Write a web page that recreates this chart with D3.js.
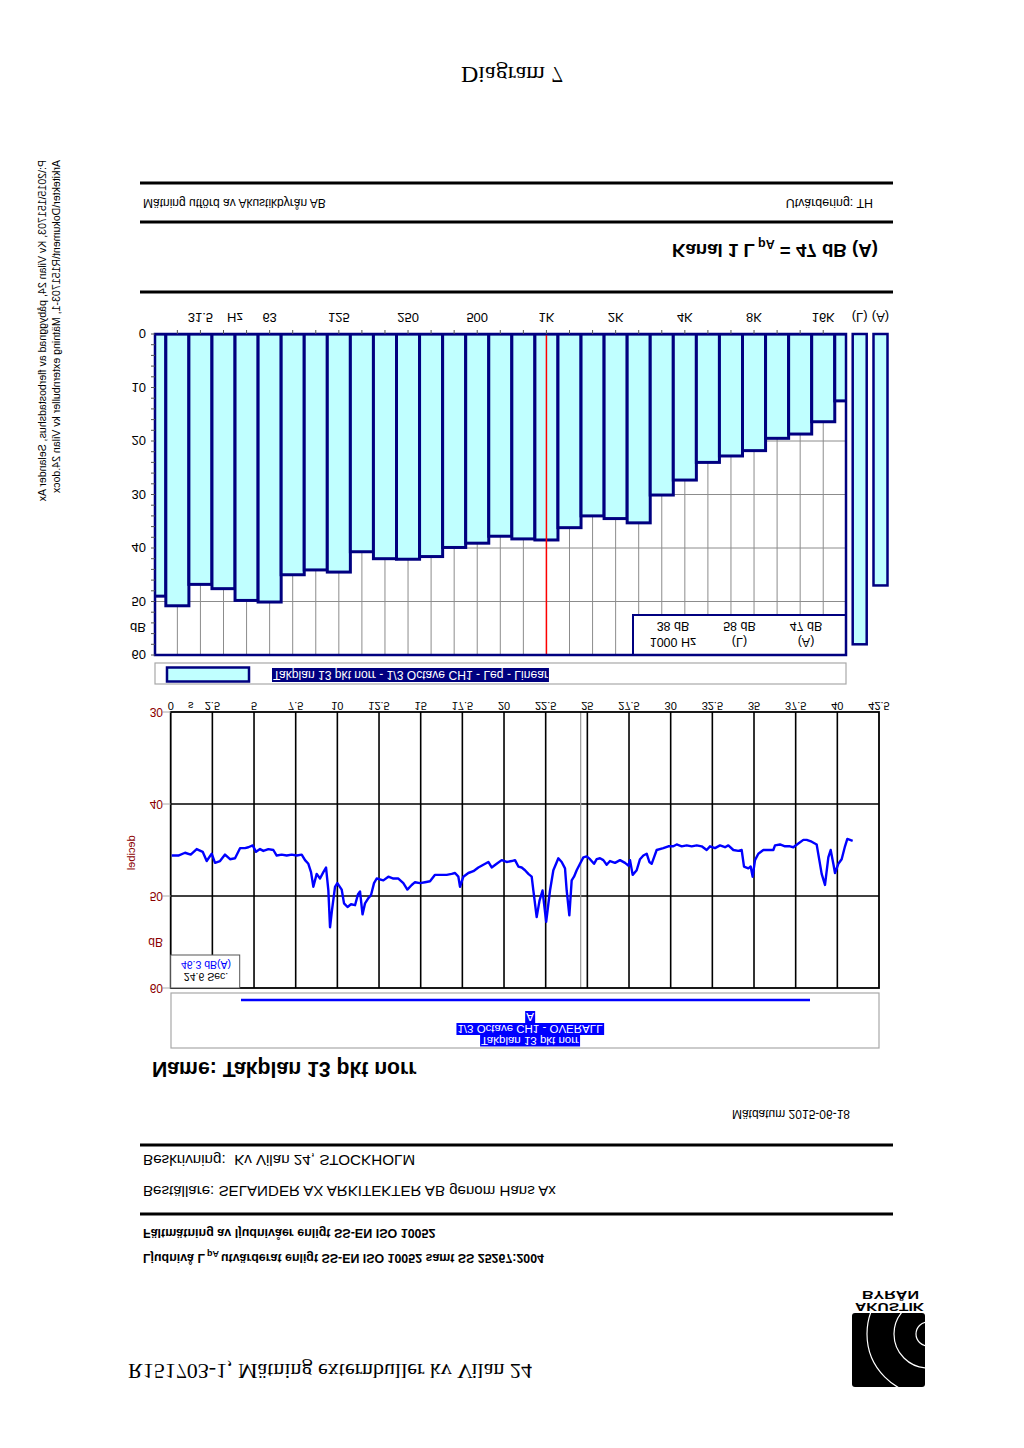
<!DOCTYPE html>
<html><head><meta charset="utf-8">
<script src="https://cdn.jsdelivr.net/npm/d3@7"></script>
<style>
body{margin:0;background:#fff}
svg{display:block}
text{font-family:"Liberation Sans",Arial,sans-serif}
.serif{font-family:"Liberation Serif","Times New Roman",serif}
</style>
</head><body>
<svg id="page" width="1024" height="1448"></svg>
<script>
// ---------------- data ----------------
const bandCentres = ["20","25","31.5","40","50","63","80","100","125","160","200","250","315","400","500","630","800","1K","1.25K","1.6K","2K","2.5K","3.15K","4K","5K","6.3K","8K","10K","12.5K","16K","20K"];
const bandLevels = [49.0,50.8,46.8,47.6,49.8,50.1,45.0,44.1,44.5,40.7,42.0,42.1,41.6,39.9,39.1,37.8,38.3,38.5,36.2,34.0,34.5,35.3,30.1,27.3,24.0,22.8,21.8,19.5,18.7,16.4,12.5];
const freqTickLabels = ["31.5","63","125","250","500","1K","2K","4K","8K","16K"];
const markerBand = "1K";
const totalLabels = ["(L)","(A)"];
const totalLevels = [58, 47];
const barDbTicks = [0,10,20,30,40,50,60];
const infoLabels = ["1000 Hz","(L)","(A)"];
const infoValues = ["38 dB","58 dB","47 dB"];
const barLegendText = "Takplan 13 pkt norr - 1/3 Octave CH1 - Leq - Linear";

const timeSec = [0.06,0.46,0.86,1.20,1.56,1.92,2.16,2.46,2.66,2.96,3.26,3.56,3.86,4.16,4.46,4.66,4.92,5.12,5.36,5.56,5.86,6.16,6.36,6.66,6.96,7.26,7.56,7.86,8.06,8.26,8.42,8.56,8.76,8.96,9.16,9.32,9.46,9.56,9.68,9.86,10.00,10.26,10.40,10.61,10.82,11.06,11.24,11.36,11.51,11.66,11.87,12.02,12.20,12.36,12.76,13.06,13.36,13.66,13.96,14.20,14.46,14.66,14.96,15.26,15.56,15.86,16.16,16.56,16.86,17.06,17.26,17.36,17.56,17.86,18.16,18.46,18.76,19.06,19.26,19.56,19.86,20.16,20.46,20.66,20.86,21.06,21.26,21.46,21.66,21.76,21.96,22.13,22.31,22.53,22.76,22.96,23.26,23.46,23.66,23.76,23.92,24.06,24.20,24.36,24.56,24.76,24.96,25.16,25.40,25.56,25.76,25.96,26.16,26.36,26.66,26.96,27.26,27.46,27.56,27.72,27.96,28.16,28.36,28.56,28.72,28.86,29.00,29.16,29.56,29.86,30.16,30.36,30.66,30.96,31.26,31.56,31.86,32.16,32.36,32.66,32.96,33.26,33.46,33.76,34.06,34.26,34.40,34.66,34.80,34.92,35.06,35.26,35.56,35.86,36.16,36.26,36.56,36.86,37.16,37.36,37.66,37.96,38.16,38.46,38.76,38.92,39.06,39.26,39.46,39.60,39.76,39.86,40.06,40.26,40.46,40.60,40.76,40.92];
const levelDb = [45.6,45.6,45.3,45.5,44.9,45.2,46.2,45.4,46.4,46.2,45.5,46.0,45.9,44.8,44.8,44.7,44.5,45.2,44.9,45.1,44.9,45.0,45.6,45.5,45.6,45.5,45.6,45.5,46.1,46.5,47.4,49.0,47.6,48.1,47.4,46.9,49.4,53.4,51.5,49.0,48.6,49.3,50.8,51.2,50.9,51.0,49.8,49.5,52.0,50.8,50.2,49.9,48.6,48.1,48.3,47.9,48.1,48.1,48.6,49.3,48.8,48.5,48.6,48.5,48.4,47.7,47.7,47.7,47.6,47.5,47.9,49.0,47.9,47.5,47.3,46.9,46.6,46.3,46.9,46.5,46.1,46.3,46.2,46.1,46.8,46.9,47.2,47.6,47.9,49.4,52.3,50.5,49.4,52.8,49.4,47.2,45.9,46.3,47.0,49.4,52.1,48.3,47.9,47.2,46.5,45.8,45.7,46.0,46.5,46.0,45.9,46.1,46.6,46.2,46.4,46.1,46.4,46.7,46.1,47.7,47.2,46.0,45.6,45.4,46.3,46.5,45.8,45.0,44.8,44.6,44.6,44.4,44.6,44.5,44.6,44.5,44.6,45.0,44.6,44.8,44.5,44.7,44.5,45.0,45.1,45.0,46.8,47.0,46.8,47.9,46.1,45.4,45.0,45.0,45.0,44.5,44.4,44.6,44.6,44.7,44.3,43.9,43.9,44.1,44.4,46.1,47.6,48.8,45.8,45.0,46.5,47.5,46.5,46.0,44.6,43.8,43.9,44.0];
const timeTicks = [0,2.5,5,7.5,10,12.5,15,17.5,20,22.5,25,27.5,30,32.5,35,37.5,40,42.5];
const lineDbTicks = [30,40,50,60];
const cursorTime = 24.6;
const cursorLabels = ["24.6 Sec.","46.3 dB(A)"];
const lineLegendLines = ["Takplan 13 pkt norr","1/3 Octave CH1 - OVERALL","A"];

// ---------------- drawing ----------------
const svg = d3.select("#page");
svg.append("rect").attr("width",1024).attr("height",1448).attr("fill","#fff");
const defs = svg.append("defs");
// the whole sheet is mirrored vertically
const page = svg.append("g").attr("transform","translate(0,1448) scale(1,-1)");

const NAVY="#000080", CYAN="#C0FFFF", GRID="#8c8c8c";

function hline(y, x1=140, x2=893, w=3){
  page.append("line").attr("x1",x1).attr("x2",x2).attr("y1",y).attr("y2",y)
    .attr("stroke","#000").attr("stroke-width",w);
}

// ---- header ----
page.append("text").attr("class","serif").attr("x",128).attr("y",84)
  .attr("font-size",22).text("R151703-1, Mätning externbuller kv Vilan 24");

// logo
defs.append("clipPath").attr("id","logoClip").append("rect")
  .attr("x",852).attr("y",61).attr("width",73).attr("height",74).attr("rx",3);
page.append("rect").attr("x",852).attr("y",61).attr("width",73).attr("height",74).attr("rx",3).attr("fill","#000");
const lg = page.append("g").attr("clip-path","url(#logoClip)");
[12,34,61].forEach(r=>lg.append("circle").attr("cx",928).attr("cy",114).attr("r",r)
  .attr("fill","none").attr("stroke","#fff").attr("stroke-width",1.2));
page.append("text").attr("x",855).attr("y",145).attr("textLength",69).attr("lengthAdjust","spacingAndGlyphs")
  .attr("font-size",11).attr("font-weight","bold").text("AKUSTIK");
page.append("text").attr("x",862).attr("y",157.5).attr("textLength",57).attr("lengthAdjust","spacingAndGlyphs")
  .attr("font-size",11).attr("font-weight","bold").text("BYRÅN");

const t1 = page.append("text").attr("x",143).attr("y",194).attr("font-size",12.4).attr("font-weight","bold");
t1.append("tspan").text("Ljudnivå L");
t1.append("tspan").attr("font-size",9).attr("dy",3).attr("dx",2).text("pA");
t1.append("tspan").attr("dy",-3).attr("dx",2).text("utvärderat enligt SS-EN ISO 10052 samt SS 25267:2004");
page.append("text").attr("x",143).attr("y",219).attr("font-size",12.5).attr("font-weight","bold")
  .text("Fältmätning av ljudnivåer enligt SS-EN ISO 10052");
hline(234);
page.append("text").attr("x",143).attr("y",262).attr("font-size",15.1)
  .text("Beställare: SELANDER AX ARKITEKTER AB genom Hans Ax");
page.append("text").attr("x",143).attr("y",293).attr("font-size",15.2)
  .attr("xml:space","preserve").text("Beskrivning:  Kv Vilan 24, STOCKHOLM");
hline(303);
page.append("text").attr("x",850).attr("y",338).attr("font-size",12).attr("text-anchor","end")
  .text("Mätdatum 2015-06-18");
page.append("text").attr("x",152).attr("y",386).attr("font-size",21.2).attr("font-weight","bold")
  .text("Name: Takplan 13 pkt norr");

// ---- time history (line) chart ----
const xT = d3.scaleLinear().domain([0,42.5]).range([170.7,879]);
const yL = d3.scaleLinear().domain([30,60]).range([736,460]);
const lc = page.append("g");
// legend box
lc.append("rect").attr("x",171).attr("y",400).attr("width",708).attr("height",55)
  .attr("fill","#fff").attr("stroke","#a8a8a8").attr("stroke-width",1.2);
const legY = [411.5,423,435];
lineLegendLines.forEach((s,i)=>{
  const t = lc.append("text").attr("x",530).attr("y",legY[i]).attr("text-anchor","middle")
    .attr("font-size",11.5).attr("fill","#fff").text(s);
  const bb = t.node().getBBox();
  lc.insert("rect","text").attr("x",bb.x-1).attr("y",legY[i]-10).attr("width",bb.width+2).attr("height",12)
    .attr("fill","#0000ff");
});
lc.append("line").attr("x1",241).attr("x2",810).attr("y1",448).attr("y2",448)
  .attr("stroke","#0000ff").attr("stroke-width",2.5);

// grid
lc.selectAll(".vg").data(timeTicks.filter(d=>d>0&&d<42.5)).join("line")
  .attr("x1",d=>xT(d)).attr("x2",d=>xT(d)).attr("y1",yL(60)).attr("y2",yL(30))
  .attr("stroke","#000").attr("stroke-width",1.6);
lc.selectAll(".hg").data(lineDbTicks.filter(d=>d>30&&d<60)).join("line")
  .attr("x1",xT(0)).attr("x2",xT(42.5)).attr("y1",d=>yL(d)).attr("y2",d=>yL(d))
  .attr("stroke","#000").attr("stroke-width",1.6);
// cursor
lc.append("line").attr("x1",xT(cursorTime)).attr("x2",xT(cursorTime)).attr("y1",yL(60)).attr("y2",yL(30))
  .attr("stroke","#9a9a9a").attr("stroke-width",1.2);
// frame
lc.append("rect").attr("x",xT(0)).attr("y",yL(60)).attr("width",xT(42.5)-xT(0)).attr("height",yL(30)-yL(60))
  .attr("fill","none").attr("stroke","#000").attr("stroke-width",1.8);
// y ticks/labels
lc.selectAll(".yt").data(lineDbTicks).join("line")
  .attr("x1",xT(0)-8).attr("x2",xT(0)).attr("y1",d=>yL(d)).attr("y2",d=>yL(d))
  .attr("stroke","#aaa").attr("stroke-width",1);
lc.selectAll(".yl").data(lineDbTicks).join("text")
  .attr("x",163).attr("y",d=>yL(d)+4.5).attr("text-anchor","end").attr("font-size",12)
  .attr("fill","#8b0000").text(d=>d);
lc.append("text").attr("x",163).attr("y",yL(55)+4.5).attr("text-anchor","end").attr("font-size",12)
  .attr("fill","#8b0000").text("dB");
lc.append("text").attr("transform",`translate(135,${yL(45.3)}) rotate(-90)`).attr("text-anchor","middle")
  .attr("font-size",11).attr("fill","#8b0000").text("decibel");
// x labels
lc.selectAll(".xl").data(timeTicks).join("text")
  .attr("x",d=>xT(d)).attr("y",746).attr("text-anchor","middle").attr("font-size",11).text(d=>d);
lc.append("text").attr("x",xT(1.2)).attr("y",746).attr("text-anchor","middle").attr("font-size",11).text("s");
// line
lc.append("path").datum(timeSec.map((t,i)=>[t,levelDb[i]]))
  .attr("d",d3.line().x(d=>xT(d[0])).y(d=>yL(d[1])))
  .attr("fill","none").attr("stroke","#0000ff").attr("stroke-width",2.4).attr("stroke-linejoin","round");
// value box
lc.append("rect").attr("x",xT(0)).attr("y",yL(60)).attr("width",69).attr("height",33)
  .attr("fill","#fff").attr("stroke","#555").attr("stroke-width",1);
lc.append("text").attr("x",206).attr("y",475).attr("text-anchor","middle").attr("font-size",10.5).text(cursorLabels[0]);
lc.append("text").attr("x",206).attr("y",487).attr("text-anchor","middle").attr("font-size",10.5)
  .attr("fill","#0000ff").text(cursorLabels[1]);

// ---- spectrum (bar) chart ----
const xB = d3.scalePoint().domain(bandCentres).range([154.3,846.3]);
const step = xB.step();
const yB = d3.scaleLinear().domain([0,60]).range([1114,793]);
const xTot = d3.scalePoint().domain(totalLabels).range([859.7,880.5]);
const bc = page.append("g");
const PL=155, PR=846;
defs.append("clipPath").attr("id","barClip").append("rect")
  .attr("x",PL).attr("y",yB(60)).attr("width",PR-PL).attr("height",yB(0)-yB(60));

// legend
bc.append("rect").attr("x",155).attr("y",764).attr("width",691).attr("height",21)
  .attr("fill","#fff").attr("stroke","#a8a8a8").attr("stroke-width",1.2);
bc.append("rect").attr("x",167).attr("y",766.5).attr("width",82).attr("height",14)
  .attr("fill",CYAN).attr("stroke",NAVY).attr("stroke-width",2.5);
const blt = bc.append("text").attr("x",273).attr("y",777.5).attr("font-size",12.1).attr("fill","#fff").text(barLegendText);
const bbb = blt.node().getBBox();
bc.insert("rect","text").attr("x",272).attr("y",766).attr("width",bbb.width+2).attr("height",14).attr("fill",NAVY);

const plot = bc.append("g").attr("clip-path","url(#barClip)");
// grid
plot.selectAll(".vg").data(bandCentres.slice(1,-1)).join("line")
  .attr("x1",d=>xB(d)).attr("x2",d=>xB(d)).attr("y1",yB(0)).attr("y2",yB(60))
  .attr("stroke",GRID).attr("stroke-width",1);
plot.selectAll(".hg").data(barDbTicks.slice(1,-1)).join("line")
  .attr("x1",PL).attr("x2",PR).attr("y1",d=>yB(d)).attr("y2",d=>yB(d))
  .attr("stroke",GRID).attr("stroke-width",1);
// bars
plot.selectAll(".bar").data(bandCentres.map((c,i)=>({c,v:bandLevels[i]}))).join("rect")
  .attr("x",d=>xB(d.c)-step/2).attr("width",step)
  .attr("y",d=>yB(d.v)).attr("height",d=>yB(0)-yB(d.v))
  .attr("fill",CYAN).attr("stroke",NAVY).attr("stroke-width",3);
// marker line
plot.append("line").attr("x1",xB(markerBand)).attr("x2",xB(markerBand)).attr("y1",yB(0)).attr("y2",yB(60))
  .attr("stroke","#ff0000").attr("stroke-width",1.5);
// info box
const ib = bc.append("g");
ib.append("rect").attr("x",633).attr("y",yB(60)).attr("width",PR-633).attr("height",40)
  .attr("fill","#fff").attr("stroke",NAVY).attr("stroke-width",2);
const infoX = d3.scalePoint().domain(infoLabels).range([673,806]);
ib.selectAll(".il").data(infoLabels).join("text").attr("x",d=>infoX(d)).attr("y",810)
  .attr("text-anchor","middle").attr("font-size",12.5).text(d=>d);
ib.selectAll(".iv").data(infoLabels).join("text").attr("x",d=>infoX(d)).attr("y",826)
  .attr("text-anchor","middle").attr("font-size",12.5).text((d,i)=>infoValues[i]);
// frame
bc.append("rect").attr("x",PL).attr("y",yB(60)).attr("width",PR-PL).attr("height",yB(0)-yB(60))
  .attr("fill","none").attr("stroke",NAVY).attr("stroke-width",2.5);
// total bars
bc.selectAll(".tot").data(totalLabels.map((l,i)=>({l,v:totalLevels[i]}))).join("rect")
  .attr("x",d=>xTot(d.l)-7).attr("width",14)
  .attr("y",d=>yB(d.v)).attr("height",d=>yB(0)-yB(d.v))
  .attr("fill",CYAN).attr("stroke",NAVY).attr("stroke-width",2.5);
// y axis minor ticks + labels
bc.selectAll(".ytk").data(d3.range(0,61,2)).join("line")
  .attr("x1",PL-4).attr("x2",PL).attr("y1",d=>yB(d)).attr("y2",d=>yB(d))
  .attr("stroke","#555").attr("stroke-width",1);
bc.selectAll(".ylab").data(barDbTicks).join("text")
  .attr("x",146).attr("y",d=>yB(d)+5).attr("text-anchor","end").attr("font-size",13).text(d=>d);
bc.append("text").attr("x",146).attr("y",yB(55)+5).attr("text-anchor","end").attr("font-size",13).text("dB");
// x ticks + labels
bc.selectAll(".xtk").data(bandCentres.slice(1,-1)).join("line")
  .attr("x1",d=>xB(d)).attr("x2",d=>xB(d)).attr("y1",yB(0)).attr("y2",yB(0)+4)
  .attr("stroke","#555").attr("stroke-width",1);
bc.selectAll(".xlab").data(freqTickLabels).join("text")
  .attr("x",d=>xB(d)).attr("y",1135).attr("text-anchor","middle").attr("font-size",13).text(d=>d);
bc.append("text").attr("x",(xB("40")+xB("50"))/2).attr("y",1135).attr("text-anchor","middle").attr("font-size",13).text("Hz");
bc.selectAll(".tlab").data(totalLabels).join("text")
  .attr("x",d=>xTot(d)).attr("y",1135).attr("text-anchor","middle").attr("font-size",13).text(d=>d);

hline(1156);
const kt = page.append("text").attr("x",878).attr("y",1204).attr("text-anchor","end")
  .attr("font-size",18.7).attr("font-weight","bold");
kt.append("tspan").text("Kanal 1 L");
kt.append("tspan").attr("font-size",12.5).attr("dy",4).attr("dx",3).text("pA");
kt.append("tspan").attr("dy",-4).text(" = 47 dB (A)");
hline(1226);
page.append("text").attr("x",143).attr("y",1249).attr("font-size",12).text("Mätning utförd av Akustikbyrån AB");
page.append("text").attr("x",873).attr("y",1249).attr("font-size",12.4).attr("text-anchor","end").text("Utvärdering: TH");
hline(1265);

// footer
page.append("text").attr("class","serif").attr("x",512).attr("y",1381).attr("text-anchor","middle")
  .attr("font-size",24).text("Diagram 7");

// side path text
const side = page.append("text").attr("font-size",10.6).attr("transform","translate(46,1288) rotate(-90)");
side.append("tspan").attr("x",0).attr("y",0).text("P:\\2015\\151703, Kv Vilan 24, påbyggnad av flerbostadshus, Selander Ax");
side.append("tspan").attr("x",0).attr("y",14).text("Arkitekter\\Dokument\\R151703-1, Mätning externbuller kv Vilan 24.docx");
</script>
</body></html>
